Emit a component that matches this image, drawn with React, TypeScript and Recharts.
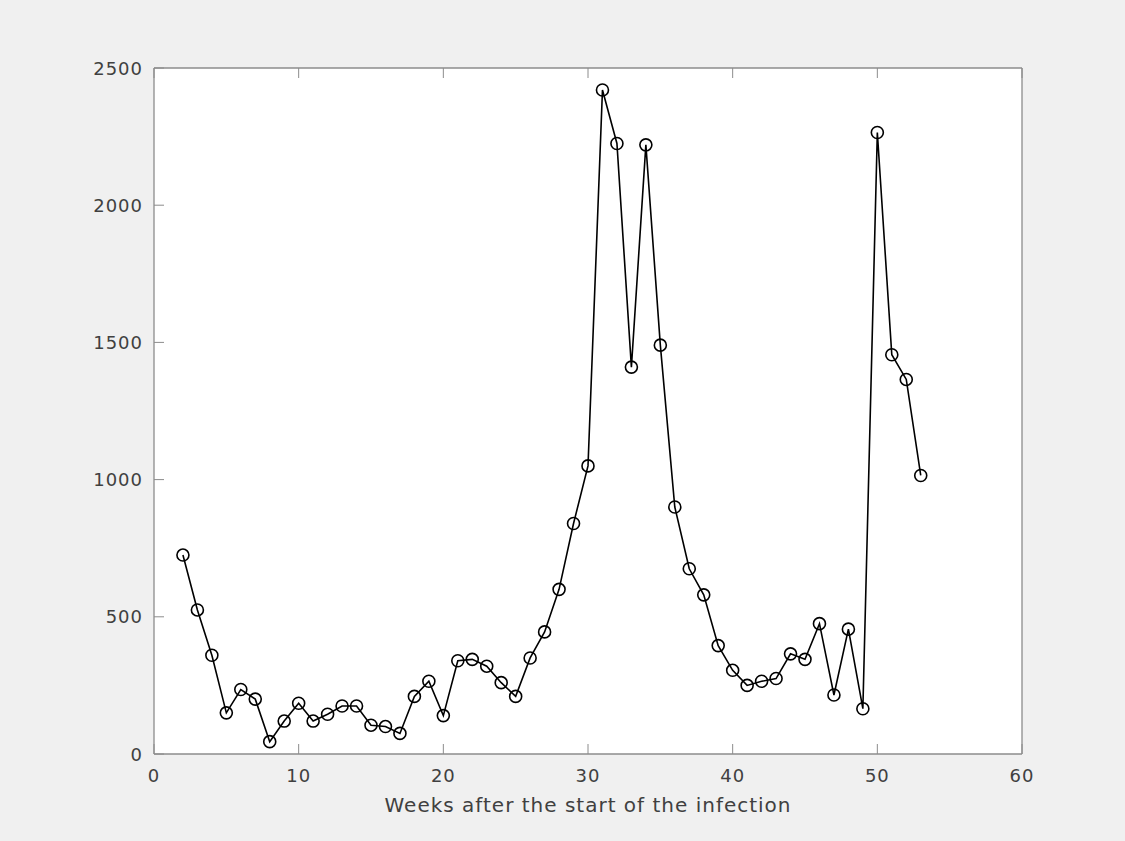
import React from "react";
import { LineChart, Line, XAxis, YAxis, CartesianGrid } from "recharts";

// ─── Data ─────────────────────────────────────────────────────────────────────
const WEEKS = [
  2, 3, 4, 5, 6, 7, 8, 9, 10, 11, 12, 13, 14, 15, 16, 17, 18, 19, 20, 21, 22, 23,
  24, 25, 26, 27, 28, 29, 30, 31, 32, 33, 34, 35, 36, 37, 38, 39, 40, 41, 42, 43,
  44, 45, 46, 47, 48, 49, 50, 51, 52, 53,
];
const CASES = [
  725, 525, 360, 150, 235, 200, 45, 120, 185, 120, 145, 175, 175, 105, 100, 75,
  210, 265, 140, 340, 345, 320, 260, 210, 350, 445, 600, 840, 1050, 2420, 2225,
  1410, 2220, 1490, 900, 675, 580, 395, 305, 250, 265, 275, 365, 345, 475, 215,
  455, 165, 2265, 1455, 1365, 1015,
];
const X_TICKS = [0, 10, 20, 30, 40, 50, 60];
const Y_TICKS = [0, 500, 1000, 1500, 2000, 2500];
const X_LABEL = "Weeks after the start of the infection";

const chartData = WEEKS.map((w, i) => ({ week: w, cases: CASES[i] }));

const AXIS = "#8c8c8c";
const TEXT = "#404040";
const FONT = "DejaVu Sans, sans-serif";
const TICK_LEN = 10;

// ─── Inward ticks (MATLAB style) ──────────────────────────────────────────────
const BottomTick = ({ x, y, payload }: any) => (
  <g>
    <line x1={x} y1={y} x2={x} y2={y - TICK_LEN} stroke={AXIS} />
    <text
      x={x}
      y={y + 28}
      textAnchor="middle"
      fill={TEXT}
      fontSize={18}
      letterSpacing={1}
      fontFamily={FONT}
    >
      {payload.value}
    </text>
  </g>
);

const TopTick = ({ x, y }: any) => (
  <line x1={x} y1={y} x2={x} y2={y + TICK_LEN} stroke={AXIS} />
);

const LeftTick = ({ x, y, payload }: any) => (
  <g>
    <line x1={x} y1={y} x2={x + TICK_LEN} y2={y} stroke={AXIS} />
    <text
      x={x - 11}
      y={y + 6.5}
      textAnchor="end"
      fill={TEXT}
      fontSize={18}
      letterSpacing={1}
      fontFamily={FONT}
    >
      {payload.value}
    </text>
  </g>
);

const RightTick = ({ x, y }: any) => (
  <line x1={x} y1={y} x2={x - TICK_LEN} y2={y} stroke={AXIS} />
);

const Marker = ({ cx, cy }: any) => (
  <circle cx={cx} cy={cy} r={6} fill="none" stroke="#000" strokeWidth={1.6} />
);

const App: React.FC = () => {
  return (
    <div
      style={{
        position: "fixed",
        top: 0,
        left: 0,
        width: 1125,
        height: 841,
        background: "#f0f0f0",
      }}
    >
      <LineChart
        width={1125}
        height={841}
        data={chartData}
        margin={{ top: 38, right: 73, bottom: 57, left: 94 }}
      >
        <CartesianGrid fill="#ffffff" stroke="none" horizontal={false} vertical={false} />

        <XAxis
          xAxisId="bottom"
          dataKey="week"
          type="number"
          domain={[0, 60]}
          ticks={X_TICKS}
          height={30}
          tickSize={0}
          tickMargin={0}
          tickLine={false}
          axisLine={{ stroke: AXIS, strokeWidth: 1.3 }}
          tick={<BottomTick />}
          label={{
            value: X_LABEL,
            position: "bottom",
            offset: 14,
            fill: TEXT,
            fontSize: 20,
            letterSpacing: 1,
            fontFamily: FONT,
          }}
        />
        <XAxis
          xAxisId="top"
          orientation="top"
          dataKey="week"
          type="number"
          domain={[0, 60]}
          ticks={X_TICKS}
          height={30}
          tickSize={0}
          tickMargin={0}
          tickLine={false}
          axisLine={{ stroke: AXIS, strokeWidth: 1.3 }}
          tick={<TopTick />}
        />
        <YAxis
          yAxisId="left"
          type="number"
          domain={[0, 2500]}
          ticks={Y_TICKS}
          width={60}
          tickSize={0}
          tickMargin={0}
          tickLine={false}
          axisLine={{ stroke: AXIS, strokeWidth: 1.3 }}
          tick={<LeftTick />}
        />
        <YAxis
          yAxisId="right"
          orientation="right"
          type="number"
          domain={[0, 2500]}
          ticks={Y_TICKS}
          width={30}
          tickSize={0}
          tickMargin={0}
          tickLine={false}
          axisLine={{ stroke: AXIS, strokeWidth: 1.3 }}
          tick={<RightTick />}
        />

        <Line
          xAxisId="bottom"
          yAxisId="left"
          dataKey="cases"
          type="linear"
          stroke="#000"
          strokeWidth={1.6}
          dot={<Marker />}
          activeDot={false}
          isAnimationActive={false}
        />
      </LineChart>
    </div>
  );
};

export default App;
